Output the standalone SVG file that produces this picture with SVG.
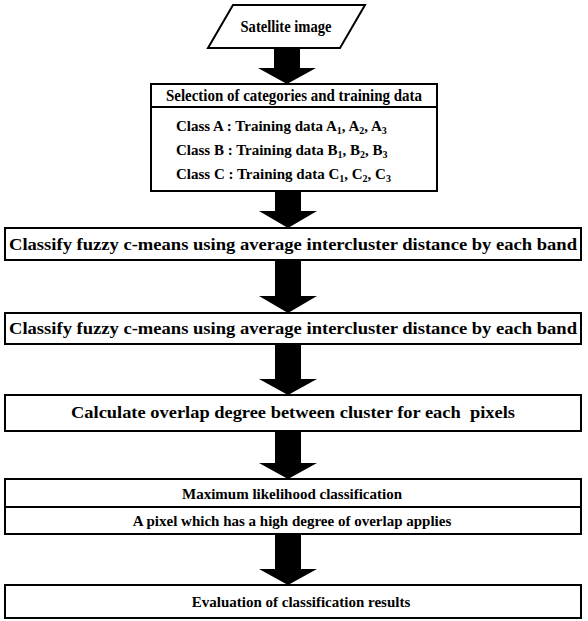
<svg xmlns="http://www.w3.org/2000/svg" width="588" height="621" viewBox="0 0 588 621">
<style>
.box{fill:#fff;stroke:#000;stroke-width:2}
.t{font-family:"Liberation Serif","Times New Roman",serif;font-weight:bold;font-size:16px;fill:#000;text-anchor:middle}
.ts{font-family:"Liberation Serif","Times New Roman",serif;font-weight:bold;font-size:15px;fill:#000}
.arr{fill:#000}
</style>
<rect width="588" height="621" fill="#fff"/>
<g id="connectors">
<path class="arr" d="M274,48 H300 V68 H316 L287,84 L258,68 H274 Z"/>
<path class="arr" d="M275,191 H301 V211 H317 L288,228 L259,211 H275 Z"/>
<path class="arr" d="M275,260 H301 V296 H317 L288,313 L259,296 H275 Z"/>
<path class="arr" d="M275,344 H301 V379 H317 L288,395 L259,379 H275 Z"/>
<path class="arr" d="M275,431 H301 V463 H317 L288,479 L259,463 H275 Z"/>
<path class="arr" d="M275,534 H301 V569 H317 L288,585 L259,569 H275 Z"/>
</g>
<g id="satellite">
<polygon class="box" points="233,5 365,5 340,48 208,48"/>
<text class="t" x="286" y="32" textLength="91" lengthAdjust="spacingAndGlyphs">Satellite image</text>
</g>
<g id="selection">
<rect class="box" x="151" y="84" width="286" height="107"/>
<line x1="151" y1="107" x2="437" y2="107" stroke="#000" stroke-width="2"/>
<text class="t" x="294" y="101" textLength="256" lengthAdjust="spacingAndGlyphs">Selection of categories and training data</text>
<text class="ts" x="176" y="131">Class A : Training data A<tspan dy="3" font-size="10">1</tspan><tspan dy="-3">, A</tspan><tspan dy="3" font-size="10">2</tspan><tspan dy="-3">, A</tspan><tspan dy="3" font-size="10">3</tspan></text>
<text class="ts" x="176" y="155">Class B : Training data B<tspan dy="3" font-size="10">1</tspan><tspan dy="-3">, B</tspan><tspan dy="3" font-size="10">2</tspan><tspan dy="-3">, B</tspan><tspan dy="3" font-size="10">3</tspan></text>
<text class="ts" x="176" y="179">Class C : Training data C<tspan dy="3" font-size="10">1</tspan><tspan dy="-3">, C</tspan><tspan dy="3" font-size="10">2</tspan><tspan dy="-3">, C</tspan><tspan dy="3" font-size="10">3</tspan></text>
</g>
<g id="classify1">
<rect class="box" x="5" y="228" width="576" height="32"/>
<text class="t" x="293" y="250" textLength="568" lengthAdjust="spacingAndGlyphs">Classify fuzzy c-means using average intercluster distance by each band</text>
</g>
<g id="classify2">
<rect class="box" x="5" y="313" width="576" height="31"/>
<text class="t" x="293" y="334" textLength="568" lengthAdjust="spacingAndGlyphs">Classify fuzzy c-means using average intercluster distance by each band</text>
</g>
<g id="overlap">
<rect class="box" x="5" y="395" width="576" height="36"/>
<text class="t" x="293" y="418" textLength="444" lengthAdjust="spacingAndGlyphs">Calculate overlap degree between cluster for each&#160; pixels</text>
</g>
<g id="maxlike">
<rect class="box" x="5" y="479" width="576" height="55"/>
<line x1="5" y1="507" x2="581" y2="507" stroke="#000" stroke-width="2"/>
<text class="t" x="292" y="499" style="font-size:15px">Maximum likelihood classification</text>
<text class="t" x="292" y="526" style="font-size:15px">A pixel which has a high degree of overlap applies</text>
</g>
<g id="evaluation">
<rect class="box" x="5" y="585" width="576" height="33"/>
<text class="t" x="301" y="607" style="font-size:15px">Evaluation of classification results</text>
</g>
</svg>
